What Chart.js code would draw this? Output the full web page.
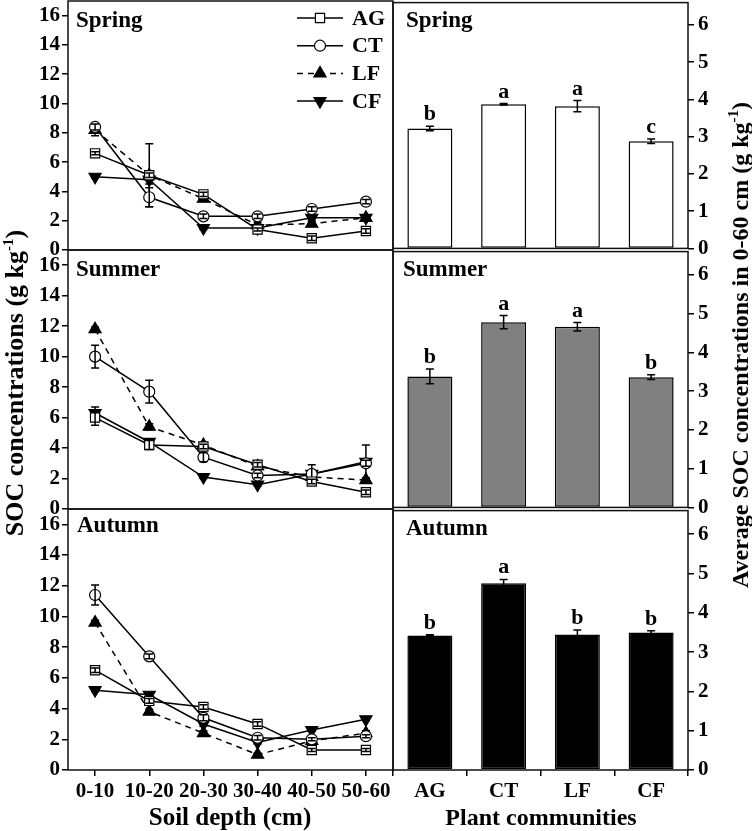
<!DOCTYPE html>
<html lang="en">
<head>
  <meta charset="UTF-8">
  <title>SOC concentrations by season</title>
  <script src="https://cdn.jsdelivr.net/npm/chart.js@4"></script>
  <style>
    body { margin: 0; background: #fff; }
    #fig { position: relative; width: 752px; height: 831px; overflow: hidden;
           font-family: "Liberation Serif", "Times New Roman", serif; font-weight: bold; color: #000; }
    #fig canvas { position: absolute; }
    .lab { position: absolute; font-size: 23px; line-height: 24px; white-space: nowrap; }
    .title { position: absolute; font-size: 24px; line-height: 26px; text-align: center; white-space: nowrap; }
    .rot { transform: rotate(-90deg); transform-origin: 50% 50%; }
    sup { font-size: 15px; vertical-align: 10px; line-height: 0; }
  </style>
</head>
<body>
<div id="fig">
  <canvas id="lSpring" width="420" height="279" style="left:0;top:-14px"></canvas>
  <canvas id="lSummer" width="420" height="289" style="left:0;top:235px"></canvas>
  <canvas id="lAutumn" width="420" height="322" style="left:0;top:494px"></canvas>
  <canvas id="rSpring" width="372" height="279" style="left:380px;top:-14px"></canvas>
  <canvas id="rSummer" width="372" height="289" style="left:380px;top:235px"></canvas>
  <canvas id="rAutumn" width="372" height="322" style="left:380px;top:494px"></canvas>

  <div class="lab" style="left:76px;top:8px">Spring</div>
  <div class="lab" style="left:76px;top:257px">Summer</div>
  <div class="lab" style="left:77px;top:513px">Autumn</div>
  <div class="lab" style="left:406px;top:8px">Spring</div>
  <div class="lab" style="left:403px;top:257px">Summer</div>
  <div class="lab" style="left:406px;top:516px">Autumn</div>

  <div class="title" style="left:30px;top:804px;width:400px;font-size:25px">Soil depth (cm)</div>
  <div class="title" style="left:341px;top:804px;width:400px">Plant communities</div>
  <div class="title rot" style="left:-235px;top:370px;width:500px;font-size:26px">SOC concentrations (g kg<sup>-1</sup>)</div>
  <div class="title rot" style="left:490px;top:332px;width:500px">Average SOC concentrations in 0-60 cm (g kg<sup>-1</sup>)</div>
</div>

<script>
  const depths = ['0-10', '10-20', '20-30', '30-40', '40-50', '50-60'];
  const communities = ['AG', 'CT', 'LF', 'CF'];
  const leftTicks = [0, 2, 4, 6, 8, 10, 12, 14, 16];
  const rightTicks = [0, 1, 2, 3, 4, 5, 6];

  // SOC profile (g kg-1), mean and error per depth
  const springAG = [6.6, 5.1, 3.8, 1.4, 0.8, 1.3];
  const springAGerr = [0.1, 0.15, 0.15, 0.1, 0.15, 0.15];
  const springCT = [8.4, 3.6, 2.3, 2.3, 2.8, 3.3];
  const springCTerr = [0.2, 0.65, 0.15, 0.15, 0.15, 0.15];
  const springLF = [8.2, 5.1, 3.5, 1.7, 1.8, 2.2];
  const springLFerr = [0.4, 2.15, 0.15, 0.2, 0.15, 0.2];
  const springCF = [5.0, 4.8, 1.5, 1.5, 2.2, 2.2];
  const springCFerr = [0.1, 0.3, 0.1, 0.15, 0.15, 0.2];

  const summerAG = [6.0, 4.2, 4.1, 2.9, 1.8, 1.1];
  const summerAGerr = [0.5, 0.3, 0.15, 0.15, 0.15, 0.15];
  const summerCT = [10.0, 7.7, 3.4, 2.2, 2.3, 3.0];
  const summerCTerr = [0.75, 0.75, 0.3, 0.15, 0.6, 0.2];
  const summerLF = [11.8, 5.4, 4.2, 2.8, 2.1, 1.9];
  const summerLFerr = [0.15, 0.2, 0.15, 0.15, 0.15, 0.15];
  const summerCF = [6.3, 4.4, 2.1, 1.6, 2.3, 3.1];
  const summerCFerr = [0.4, 0.2, 0.1, 0.1, 0.1, 1.1];

  const autumnAG = [6.5, 4.5, 4.1, 3.0, 1.3, 1.3];
  const autumnAGerr = [0.15, 0.15, 0.15, 0.15, 0.1, 0.1];
  const autumnCT = [11.4, 7.4, 3.4, 2.1, 2.0, 2.2];
  const autumnCTerr = [0.65, 0.15, 0.2, 0.15, 0.1, 0.1];
  const autumnLF = [9.6, 3.8, 2.4, 1.0, 1.9, 2.4];
  const autumnLFerr = [0.15, 0.15, 0.15, 0.1, 0.1, 0.15];
  const autumnCF = [5.2, 4.9, 3.0, 1.8, 2.6, 3.3];
  const autumnCFerr = [0.1, 0.1, 0.15, 0.1, 0.1, 0.1];

  // average 0-60 cm per community
  const springAvg = [3.22, 3.87, 3.82, 2.88];
  const springAvgErr = [0.06, 0.02, 0.15, 0.06];
  const springLetters = ['b', 'a', 'a', 'c'];
  const summerAvg = [3.38, 4.78, 4.66, 3.36];
  const summerAvgErr = [0.19, 0.17, 0.11, 0.06];
  const summerLetters = ['b', 'a', 'a', 'b'];
  const autumnAvg = [3.42, 4.75, 3.45, 3.5];
  const autumnAvgErr = [0.02, 0.1, 0.11, 0.04];
  const autumnLetters = ['b', 'a', 'b', 'b'];

  const FAMILY = "'Liberation Serif', 'Times New Roman', serif";
  const tickFont = { family: FAMILY, size: 21, weight: 'bold' };

  const styles = [
    { pointStyle: 'rect', pointRadius: 6.5, pointBackgroundColor: '#fff', borderDash: [], pointRotation: 0 },
    { pointStyle: 'circle', pointRadius: 5.5, pointBackgroundColor: '#fff', borderDash: [], pointRotation: 0 },
    { pointStyle: 'triangle', pointRadius: 7, pointBackgroundColor: '#000', borderDash: [6, 5], pointRotation: 0 },
    { pointStyle: 'triangle', pointRadius: 7, pointBackgroundColor: '#000', borderDash: [], pointRotation: 180 }
  ];

  // box round every panel
  const frame = {
    id: 'frame',
    afterDraw(chart) {
      const a = chart.chartArea, ctx = chart.ctx;
      ctx.save();
      ctx.strokeStyle = '#111';
      ctx.lineWidth = 1.5;
      ctx.strokeRect(a.left, a.top, a.right - a.left, a.bottom - a.top);
      ctx.restore();
    }
  };

  const errorBars = {
    id: 'errorBars',
    afterDatasetDraw(chart, args) {
      const ds = chart.data.datasets[args.index];
      if (!ds.errors) return;
      const y = chart.scales.y, ctx = chart.ctx;
      ctx.save();
      ctx.strokeStyle = '#000';
      ctx.lineWidth = 1.5;
      ctx.setLineDash([]);
      args.meta.data.forEach((el, i) => {
        const top = y.getPixelForValue(ds.data[i] + ds.errors[i]);
        const bot = y.getPixelForValue(ds.data[i] - ds.errors[i]);
        ctx.beginPath();
        ctx.moveTo(el.x, top); ctx.lineTo(el.x, bot);
        ctx.moveTo(el.x - 4, top); ctx.lineTo(el.x + 4, top);
        ctx.moveTo(el.x - 4, bot); ctx.lineTo(el.x + 4, bot);
        ctx.stroke();
      });
      ctx.restore();
    }
  };

  const letters = {
    id: 'letters',
    afterDatasetsDraw(chart) {
      const ds = chart.data.datasets[0];
      const y = chart.scales.y, ctx = chart.ctx;
      ctx.save();
      ctx.fillStyle = '#000';
      ctx.font = 'bold 22px ' + FAMILY;
      ctx.textAlign = 'center';
      ctx.textBaseline = 'alphabetic';
      chart.getDatasetMeta(0).data.forEach((el, i) => {
        ctx.fillText(ds.letters[i], el.x, y.getPixelForValue(ds.data[i] + ds.errors[i]) - 6);
      });
      ctx.restore();
    }
  };

  const legendBox = {
    id: 'legendBox',
    afterDraw(chart) {
      const a = chart.chartArea, ctx = chart.ctx;
      ctx.save();
      chart.data.datasets.forEach((ds, k) => {
        const y = a.top + 17 + k * 27.7;
        ctx.strokeStyle = '#000';
        ctx.lineWidth = 1.5;
        ctx.setLineDash(ds.borderDash);
        ctx.beginPath();
        ctx.moveTo(a.left + 229, y); ctx.lineTo(a.left + 275, y);
        ctx.stroke();
        ctx.setLineDash([]);
        ctx.fillStyle = ds.pointBackgroundColor;
        ctx.lineWidth = 1.2;
        Chart.helpers.drawPoint(ctx, {
          pointStyle: ds.pointStyle, rotation: ds.pointRotation,
          radius: ds.pointRadius, borderWidth: 1.2
        }, a.left + 252, y);
        ctx.fillStyle = '#000';
        ctx.font = 'bold 22px ' + FAMILY;
        ctx.textBaseline = 'middle';
        ctx.fillText(ds.label, a.left + 284, y + 1);
      });
      ctx.restore();
    }
  };

  function yTicks(list) {
    return s => { s.ticks = list.map(v => ({ value: v })); };
  }

  function profileChart(id, series, errs, showX, withLegend) {
    const datasets = series.map((d, k) => Object.assign({
      label: communities[k], data: d, errors: errs[k],
      borderColor: '#000', borderWidth: 1.5, pointBorderColor: '#000',
      pointBorderWidth: 1.2, tension: 0, fill: false
    }, styles[k]));
    return new Chart(document.getElementById(id), {
      type: 'line',
      data: { labels: depths, datasets },
      options: {
        responsive: false, animation: false, devicePixelRatio: 1,
        // right padding wider than the point overflow so the area ends at x=393
        layout: { padding: { top: 15, bottom: showX ? 0 : 15, left: 0, right: 27 } },
        plugins: { legend: { display: false }, tooltip: { enabled: false } },
        scales: {
          x: {
            offset: true, display: showX,
            grid: { offset: false, drawOnChartArea: false, tickLength: 6, color: '#000', lineWidth: 1.5 },
            border: { display: false },
            ticks: { color: '#000', font: tickFont, padding: 3, maxRotation: 0, autoSkip: false },
            afterFit: s => { s.height = showX ? 46 : 0; }
          },
          y: {
            min: 0, max: 17,
            afterBuildTicks: yTicks(leftTicks),
            grid: { drawOnChartArea: false, tickLength: 6, color: '#000', lineWidth: 1.5 },
            border: { display: false },
            ticks: { color: '#000', font: tickFont, padding: 2, autoSkip: false },
            afterFit: s => { s.width = 68; }
          }
        }
      },
      plugins: withLegend ? [frame, errorBars, legendBox] : [frame, errorBars]
    });
  }

  function avgChart(id, vals, errs, marks, color, showX) {
    return new Chart(document.getElementById(id), {
      type: 'bar',
      data: {
        labels: communities,
        datasets: [{
          data: vals, errors: errs, letters: marks,
          backgroundColor: color, borderColor: '#000', borderWidth: 1.5, borderSkipped: false,
          barPercentage: 0.61, categoryPercentage: 1
        }]
      },
      options: {
        responsive: false, animation: false, devicePixelRatio: 1,
        layout: { padding: { top: 15, bottom: showX ? 0 : 15, left: 13, right: 0 } },
        plugins: { legend: { display: false }, tooltip: { enabled: false } },
        scales: {
          x: {
            display: showX,
            grid: { offset: true, drawOnChartArea: false, tickLength: 6, color: '#000', lineWidth: 1.5 },
            border: { display: false },
            ticks: { color: '#000', font: tickFont, padding: 3, maxRotation: 0 },
            afterFit: s => { s.height = showX ? 46 : 0; }
          },
          y: {
            position: 'right', min: 0, max: 6.6,
            afterBuildTicks: yTicks(rightTicks),
            grid: { drawOnChartArea: false, tickLength: 6, color: '#000', lineWidth: 1.5 },
            border: { display: false },
            ticks: { color: '#000', font: tickFont, padding: 4, autoSkip: false },
            afterFit: s => { s.width = 64; }
          }
        }
      },
      plugins: [frame, errorBars, letters]
    });
  }

  profileChart('lSpring', [springAG, springCT, springLF, springCF],
    [springAGerr, springCTerr, springLFerr, springCFerr], false, true);
  profileChart('lSummer', [summerAG, summerCT, summerLF, summerCF],
    [summerAGerr, summerCTerr, summerLFerr, summerCFerr], false, false);
  profileChart('lAutumn', [autumnAG, autumnCT, autumnLF, autumnCF],
    [autumnAGerr, autumnCTerr, autumnLFerr, autumnCFerr], true, false);

  avgChart('rSpring', springAvg, springAvgErr, springLetters, '#ffffff', false);
  avgChart('rSummer', summerAvg, summerAvgErr, summerLetters, '#808080', false);
  avgChart('rAutumn', autumnAvg, autumnAvgErr, autumnLetters, '#000000', true);
</script>
</body>
</html>
